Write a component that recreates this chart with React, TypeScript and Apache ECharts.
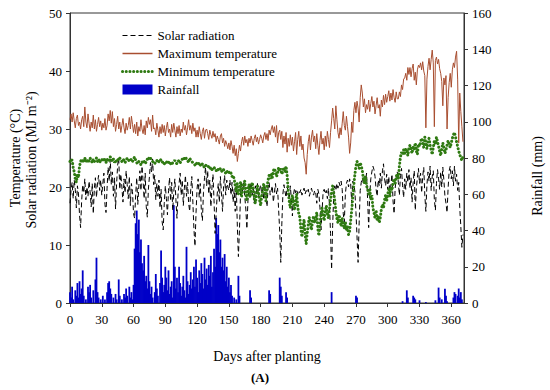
import React, { useEffect, useRef } from "react";
import * as echarts from "echarts";

const xTicks = [0, 30, 60, 90, 120, 150, 180, 210, 240, 270, 300, 330, 360];

const maxTemp = [
  31.6, 32.6, 31.2, 32.8, 31.4, 30.2, 31.8, 32.4, 30.6, 31.2,
  30.0, 31.6, 32.2, 30.4, 33.8, 31.2, 30.2, 32.6, 31.0, 29.6,
  31.2, 30.2, 32.4, 30.0, 31.6, 29.6, 30.8, 32.0, 30.4, 31.4,
  29.8, 31.0, 30.2, 31.8, 29.8, 30.6, 32.6, 31.4, 33.2, 31.0,
  33.0, 30.4, 31.8, 29.6, 30.8, 32.2, 30.0, 31.2, 29.4, 30.6,
  31.8, 30.2, 29.2, 31.0, 29.8, 30.6, 32.0, 30.0, 32.2, 30.8,
  29.4, 30.8, 29.2, 31.2, 28.8, 30.4, 29.6, 31.6, 30.0, 29.2,
  30.6, 29.0, 31.4, 30.2, 32.0, 30.8, 31.6, 29.6, 32.4, 30.0,
  30.2, 29.0, 31.0, 29.8, 28.6, 30.4, 29.2, 30.8, 29.4, 30.6,
  28.8, 30.2, 31.2, 29.4, 30.0, 28.6, 30.8, 29.4, 31.0, 29.8,
  28.6, 30.4, 29.2, 30.6, 28.8, 30.0, 29.4, 31.2, 29.8, 30.6,
  29.0, 30.2, 31.6, 29.8, 30.6, 29.2, 31.0, 29.6, 30.2, 28.6,
  29.8, 28.6, 30.4, 29.2, 28.2, 29.6, 30.2, 28.4, 29.8, 30.0,
  29.2, 28.2, 29.8, 29.0, 28.4, 29.6, 28.6, 29.2, 27.8, 28.8,
  28.2, 27.4, 28.8, 29.2, 27.6, 28.4, 27.0, 28.0, 27.4, 26.6,
  27.6, 26.4, 28.0, 27.0, 25.8, 27.2, 25.4, 26.6, 24.4, 25.8,
  27.2, 26.2, 27.8, 28.6, 27.2, 28.8, 27.6, 28.2, 27.0, 28.4,
  27.6, 28.8, 28.0, 27.2, 28.4, 29.0, 27.8, 28.6, 27.4, 28.2,
  29.0, 28.4, 27.6, 28.8, 29.4, 28.2, 29.2, 28.0, 29.8, 29.0,
  30.0, 30.6, 29.4, 30.4, 28.6, 30.6, 27.6, 29.4, 29.8, 28.2,
  29.6, 26.8, 28.8, 27.4, 29.4, 26.0, 28.4, 27.0, 29.0, 27.2,
  28.6, 26.2, 27.8, 29.4, 25.6, 28.2, 29.6, 27.0, 28.8, 26.4,
  27.4, 25.0, 24.2, 22.2, 25.6, 27.8, 29.0, 26.4, 28.6, 29.8,
  27.8, 28.8, 26.6, 29.2, 27.2, 25.6, 28.0, 29.6, 27.4, 28.4,
  26.4, 28.8, 27.0, 29.6, 28.2, 26.8, 29.4, 31.4, 33.6, 31.8,
  30.0, 34.0, 31.6, 29.4, 28.4, 30.2, 29.0, 31.0, 33.0, 30.6,
  29.8, 32.2, 30.4, 28.6, 25.8, 27.6, 31.2, 29.4, 33.2, 34.6,
  32.8, 34.8, 33.6, 31.2, 35.4, 37.6, 36.2, 33.8, 35.2, 32.8,
  34.2, 33.4, 35.0, 33.0, 34.4, 35.6, 33.8, 34.8, 32.6, 34.0,
  35.4, 33.6, 34.2, 32.2, 35.0, 33.8, 35.8, 34.2, 36.0, 34.6,
  35.6, 36.6, 34.8, 36.2, 35.0, 36.8, 35.4, 34.6, 36.4, 35.2,
  35.2, 36.4, 35.6, 37.6, 36.8, 38.6, 38.8, 39.6, 38.4, 40.6,
  39.4, 40.6, 39.0, 40.4, 41.2, 38.4, 39.8, 37.6, 40.2, 41.0,
  40.6, 41.4, 40.2, 41.6, 40.0, 39.2, 30.2, 38.6, 40.8, 42.2,
  40.2, 42.0, 43.6, 41.4, 30.4, 41.8, 42.4, 41.2, 42.0, 40.4,
  39.6, 38.2, 34.0, 38.8, 37.6, 39.2, 30.0, 35.4, 38.0, 39.6,
  37.2, 40.2, 41.4, 40.6, 42.4, 43.4, 38.6, 27.6, 36.2, 33.0, 30.4, 27.8,
];

const minTemp = [
  24.4, 24.8, 24.6, 23.4, 22.6, 21.4, 20.8, 22.2, 21.6, 23.6,
  24.4, 24.8, 24.2, 24.6, 25.0, 24.4, 24.8, 24.2, 24.6, 25.0,
  24.6, 24.2, 24.8, 24.4, 24.6, 25.0, 24.4, 24.8, 24.2, 24.6,
  24.8, 24.4, 25.0, 24.6, 24.2, 24.8, 24.4, 24.6, 25.2, 24.8,
  24.4, 24.8, 24.2, 24.6, 24.4, 24.8, 24.6, 25.0, 24.6, 24.4,
  24.8, 24.6, 24.2, 24.6, 25.0, 24.8, 24.4, 24.6, 24.8, 24.4,
  24.8, 25.2, 24.6, 24.2, 24.0, 24.4, 24.2, 23.8, 24.2, 24.6,
  24.4, 24.0, 24.4, 24.8, 24.6, 25.2, 25.0, 24.6, 24.4, 24.2,
  24.0, 24.4, 24.6, 24.2, 24.4, 24.8, 24.6, 24.2, 24.4, 24.0,
  24.2, 24.4, 24.0, 24.2, 24.4, 24.0, 23.8, 24.2, 24.4, 24.6,
  24.2, 24.0, 24.4, 24.6, 24.2, 24.4, 24.8, 24.6, 25.0, 25.2,
  24.8, 24.6, 24.2, 25.0, 24.6, 24.4, 24.2, 24.0, 23.8, 24.2,
  24.0, 23.8, 24.2, 23.8, 23.6, 24.0, 23.6, 23.4, 23.8, 23.6,
  23.4, 23.6, 23.2, 23.4, 23.0, 23.2, 23.4, 23.0, 22.8, 23.2,
  23.0, 22.8, 23.2, 22.8, 22.6, 23.0, 22.6, 22.4, 22.8, 22.4,
  22.6, 22.2, 22.4, 21.8, 22.0, 21.4, 20.2, 19.2, 20.6, 18.8,
  19.6, 20.8, 18.4, 19.4, 20.6, 21.0, 18.8, 17.6, 19.8, 20.4,
  18.2, 19.4, 20.8, 19.8, 18.0, 17.2, 18.6, 20.2, 19.0, 17.8,
  16.8, 18.4, 19.6, 20.6, 19.2, 17.6, 19.8, 21.2, 22.0, 21.4,
  22.4, 21.6, 22.8, 23.2, 22.6, 21.8, 22.4, 23.4, 22.8, 23.2,
  22.2, 22.8, 23.4, 22.6, 23.6, 22.0, 19.4, 17.6, 16.4, 17.8,
  18.6, 17.2, 16.0, 17.4, 18.8, 16.6, 15.4, 14.8, 12.6, 11.4,
  13.2, 14.4, 11.8, 10.2, 12.0, 13.6, 14.8, 13.4, 12.6, 14.2,
  15.0, 13.8, 14.6, 15.6, 12.8, 11.6, 13.6, 15.2, 16.4, 15.0,
  14.2, 15.8, 16.8, 15.4, 14.6, 16.2, 17.8, 19.2, 20.2, 19.0,
  17.6, 15.8, 14.6, 13.8, 15.2, 14.4, 13.2, 14.6, 13.6, 12.8,
  14.0, 12.6, 13.2, 11.8, 12.4, 14.2, 16.0, 18.2, 20.4, 22.2,
  23.6, 24.4, 24.0, 23.2, 24.2, 23.6, 22.8, 21.4, 20.6, 21.8,
  20.2, 19.6, 18.8, 19.8, 17.8, 18.6, 16.4, 15.6, 14.6, 16.0,
  14.2, 15.0, 13.8, 14.8, 16.2, 17.0, 16.4, 17.8, 18.6, 17.6,
  18.8, 19.6, 18.4, 20.0, 19.4, 20.8, 21.4, 20.6, 21.8, 22.2,
  21.4, 23.6, 25.2, 26.0, 25.6, 26.4, 25.8, 26.6, 26.2, 25.4,
  26.8, 27.2, 26.4, 25.8, 27.0, 26.6, 27.6, 26.2, 25.6, 27.4,
  27.0, 27.8, 28.4, 27.6, 26.8, 28.6, 27.4, 26.6, 27.8, 28.4,
  27.2, 26.4, 25.6, 26.8, 28.0, 27.4, 28.6, 27.8, 27.0, 26.2,
  25.4, 26.6, 27.6, 26.8, 25.8, 26.4, 27.2, 28.0, 27.4, 26.8,
  27.6, 28.4, 29.0, 29.4, 28.6, 27.8, 27.0, 26.2, 25.6, 25.0, 24.6, 25.2,
];

const solarRad = [
  17.2, 19.4, 20.8, 18.0, 21.2, 19.6, 16.4, 20.2, 18.8, 15.2,
  13.0, 17.6, 20.4, 19.0, 21.4, 17.8, 20.0, 18.4, 21.0, 19.2,
  16.6, 20.6, 15.4, 19.8, 21.6, 18.2, 20.8, 22.0, 19.4, 21.2,
  18.6, 20.6, 22.4, 17.0, 15.6, 19.8, 23.4, 21.0, 24.8, 20.4,
  22.6, 18.4, 21.6, 16.2, 20.6, 23.8, 25.0, 19.6, 22.2, 20.0,
  17.4, 21.4, 19.0, 22.8, 20.4, 18.0, 21.8, 16.8, 20.6, 19.2,
  15.4, 14.6, 18.6, 21.6, 17.0, 20.2, 22.8, 19.4, 23.6, 21.0,
  18.0, 22.4, 16.6, 14.8, 19.6, 21.8, 24.2, 22.6, 24.8, 20.4,
  22.0, 17.8, 20.6, 18.4, 21.2, 16.4, 19.6, 14.0, 12.6, 17.2,
  20.2, 18.0, 15.2, 19.4, 21.6, 17.6, 20.8, 16.0, 19.2, 21.4,
  17.8, 14.6, 18.8, 20.6, 22.4, 18.6, 21.2, 16.8, 19.8, 22.0,
  18.4, 20.8, 17.2, 15.8, 19.6, 21.8, 17.4, 12.8, 9.8, 15.6,
  19.8, 21.4, 18.2, 20.6, 16.0, 14.2, 19.0, 21.6, 23.4, 20.2,
  22.8, 18.8, 21.2, 16.6, 19.8, 22.2, 17.6, 12.0, 15.4, 18.8,
  20.6, 17.4, 21.8, 19.0, 15.8, 20.2, 22.0, 18.6, 21.2, 20.0,
  19.4, 21.2, 18.6, 20.8, 17.4, 19.6, 15.8, 20.2, 13.2, 8.0,
  12.6, 18.8, 20.6, 19.2, 21.0, 18.4, 16.2, 12.8, 17.6, 20.2,
  19.4, 20.8, 18.6, 19.8, 17.2, 20.2, 19.0, 20.6, 18.2, 19.6,
  20.4, 18.8, 19.6, 17.8, 20.0, 19.2, 16.6, 19.8, 20.8, 18.6,
  19.4, 20.2, 17.4, 19.0, 20.6, 18.8, 19.8, 16.0, 12.4, 7.0,
  13.6, 18.8, 20.4, 19.2, 18.2, 20.0, 19.4, 17.8, 20.2, 18.0,
  15.0, 18.6, 19.8, 19.0, 19.6, 18.8, 19.4, 19.0, 19.6, 18.6,
  19.2, 19.8, 18.8, 19.4, 19.0, 19.6, 18.4, 19.2, 19.8, 19.0,
  18.6, 19.4, 19.0, 17.2, 19.6, 18.8, 16.4, 12.6, 15.8, 19.2,
  19.6, 18.8, 19.4, 18.0, 19.8, 16.8, 12.0, 5.8, 13.4, 18.6,
  20.2, 19.4, 20.6, 19.8, 20.8, 20.2, 21.0, 19.6, 15.4, 14.0,
  18.8, 20.6, 21.2, 20.0, 21.4, 20.6, 17.2, 21.0, 20.4, 19.2,
  15.6, 11.4, 7.0, 13.8, 19.4, 20.8, 21.6, 20.6, 21.8, 20.8,
  22.4, 17.8, 13.0, 18.6, 21.4, 22.6, 23.6, 23.0, 21.8, 19.6,
  18.4, 21.2, 20.2, 22.4, 19.8, 22.8, 24.0, 21.4, 20.2, 22.2,
  19.6, 21.8, 18.6, 20.4, 22.2, 17.6, 15.4, 19.8, 21.6, 22.6,
  20.8, 18.6, 22.0, 23.2, 20.2, 18.2, 21.4, 19.6, 22.4, 20.8,
  23.0, 19.8, 21.6, 17.4, 20.8, 22.8, 16.0, 19.8, 21.6, 23.2,
  20.6, 22.4, 19.0, 21.8, 23.4, 18.6, 15.8, 20.4, 22.6, 21.0,
  23.6, 19.4, 21.8, 22.8, 17.8, 16.0, 20.6, 23.0, 21.4, 19.6,
  22.6, 20.0, 23.4, 21.2, 18.4, 17.2, 15.6, 19.8, 22.8, 23.6,
  21.4, 22.8, 20.2, 23.6, 21.0, 22.2, 19.4, 20.8, 16.4, 13.2, 9.6, 11.8,
];

// rainfall: days with rain and the amount (mm) on each
const rainDays = [
  0, 1, 2, 3, 5, 6, 7, 8, 9, 10, 11, 12, 13, 15, 17, 18, 19, 20, 22, 24, 25, 26, 27, 29,
  31, 33, 35, 36, 37, 38, 39, 41, 43, 44, 46, 47, 49, 51, 52, 53, 54, 56, 57, 58, 59,
  60, 61, 62, 63, 64, 65, 66, 67, 68, 69, 70, 71, 72, 73, 74, 75, 76, 77, 78, 80, 81, 82, 83,
  85, 86, 87, 88, 89, 90, 91, 92, 93, 94, 95, 96, 97, 98, 99, 100, 101, 102, 103, 104, 105,
  106, 107, 108, 109, 110, 111, 112, 113, 114, 115, 116, 117, 118, 119, 120, 121, 122, 123,
  124, 125, 126, 127, 128, 129, 130, 131, 132, 133, 134, 135, 136, 137, 138, 139, 140, 141,
  142, 143, 144, 145, 146, 147, 148, 149, 150, 151, 152, 153, 155, 157, 159, 160,
  170, 171, 188, 189, 198, 199, 200, 204, 205, 247, 270, 271, 314, 318, 319, 324, 325, 326,
  330, 336, 345, 348, 349, 351, 354, 355, 356, 362, 363, 364, 366, 367, 368, 369, 370,
];
const rainMm = [
  6, 3, 9, 2, 7, 4, 11, 3, 12, 5, 8, 18, 4, 2, 9, 6, 10, 3, 7, 13, 25, 6, 3, 2,
  4, 2, 6, 11, 12, 8, 5, 3, 5, 2, 13, 4, 2, 5, 3, 8, 4, 9, 3, 6, 2,
  10, 30, 44, 51, 38, 46, 28, 35, 22, 18, 26, 12, 15, 8, 32, 12, 5, 9, 3, 6, 16, 8, 4,
  11, 29, 14, 6, 10, 20, 14, 7, 18, 5, 9, 12, 3, 54, 20, 8, 14, 6, 20, 11, 4,
  9, 15, 7, 3, 31, 12, 5, 10, 17, 8, 13, 20, 9, 24, 14, 6, 18, 11,
  22, 16, 8, 25, 13, 19, 10, 21, 15, 26, 9, 17, 30, 20, 47, 38, 43, 28,
  35, 20, 25, 18, 27, 12, 20, 9, 14, 6, 10, 4, 3, 2, 15, 4,
  7, 3, 7, 5, 14, 9, 4, 6, 3, 6, 4, 3, 1, 7, 3, 4, 3, 2,
  1.5, 0.5, 1.5, 8.5, 3, 2, 7.8, 4, 1, 3, 6, 5, 4, 8, 3, 6, 2,
];

const FONT = "Liberation Serif";

export default function App() {
  const ref = useRef<HTMLDivElement>(null);
  useEffect(() => {
    if (!ref.current) return;
    const chart = echarts.init(ref.current, undefined, { renderer: "svg" });
    const maxData = maxTemp.map((v, i) => [i, v]);
    const minData = minTemp.map((v, i) => [i, v]);
    const solarData = solarRad.map((v, i) => [i, v]);
    const rainData = rainDays.map((d, i) => [d, rainMm[i]]);
    const axisColor = "#333";
    chart.setOption({
      animation: false,
      textStyle: { fontFamily: FONT },
      grid: {
        left: 70,
        right: 86,
        top: 13,
        bottom: 87,
        show: true,
        borderColor: axisColor,
        borderWidth: 1,
      },
      legend: {
        orient: "vertical",
        left: 116,
        top: 24,
        itemWidth: 30,
        itemHeight: 10,
        itemGap: 5,
        textStyle: { fontFamily: FONT, fontSize: 13, color: "#000" },
        data: [
          { name: "Solar radiation", itemStyle: { opacity: 0 }, lineStyle: { width: 1.2 } },
          { name: "Maximum temperature", itemStyle: { opacity: 0 }, lineStyle: { width: 1.5 } },
          { name: "Minimum temperature", itemStyle: { opacity: 0 }, lineStyle: { width: 3 } },
          { name: "Rainfall", icon: "rect" },
        ],
      },
      xAxis: {
        type: "value",
        min: 0,
        max: 372,
        interval: 30,
        name: "Days after planting",
        nameLocation: "middle",
        nameGap: 46,
        nameTextStyle: { fontFamily: FONT, fontSize: 14, color: "#000" },
        axisLine: { lineStyle: { color: axisColor } },
        axisTick: { length: 4, lineStyle: { color: axisColor } },
        axisLabel: {
          fontFamily: FONT,
          fontSize: 13,
          color: "#000",
          margin: 10,
          showMaxLabel: false,
          formatter: (v: number) => (xTicks.includes(v) ? String(v) : ""),
        },
        splitLine: { show: false },
      },
      yAxis: [
        {
          type: "value",
          min: 0,
          max: 50,
          interval: 10,
          axisLine: { show: true, lineStyle: { color: axisColor } },
          axisTick: { show: true, length: 4, lineStyle: { color: axisColor } },
          axisLabel: { fontFamily: FONT, fontSize: 13, color: "#000", margin: 8 },
          splitLine: { show: false },
        },
        {
          type: "value",
          min: 0,
          max: 160,
          interval: 20,
          position: "right",
          axisLine: { show: true, lineStyle: { color: axisColor } },
          axisTick: { show: true, length: 4, lineStyle: { color: axisColor } },
          axisLabel: { fontFamily: FONT, fontSize: 13, color: "#000", margin: 8 },
          splitLine: { show: false },
        },
      ],
      series: [
        {
          name: "Rainfall",
          type: "bar",
          yAxisIndex: 1,
          data: rainData,
          barWidth: 1.8,
          itemStyle: { color: "#0000c8" },
          z: 1,
        },
        {
          name: "Solar radiation",
          type: "line",
          data: solarData,
          symbol: "none",
          lineStyle: { color: "#000", width: 1, type: [5, 3] },
          itemStyle: { color: "#000" },
          z: 2,
        },
        {
          name: "Maximum temperature",
          type: "line",
          data: maxData,
          symbol: "none",
          lineStyle: { color: "#a84e30", width: 1 },
          itemStyle: { color: "#a84e30" },
          z: 3,
        },
        {
          name: "Minimum temperature",
          type: "line",
          data: minData,
          symbol: "none",
          lineStyle: { color: "#2f7a12", width: 3, type: [0.1, 3.6], cap: "round" },
          itemStyle: { color: "#2f7a12" },
          z: 4,
        },
      ],
      graphic: [
        {
          type: "text",
          x: 15,
          y: 158,
          rotation: Math.PI / 2,
          style: {
            text: "Temperature (°C)",
            fontFamily: FONT,
            fontSize: 14,
            fill: "#000",
            textAlign: "center",
            textVerticalAlign: "middle",
          },
        },
        {
          type: "text",
          x: 31,
          y: 160,
          rotation: Math.PI / 2,
          style: {
            text: "Solar radiation (MJ m⁻²)",
            fontFamily: FONT,
            fontSize: 14,
            fill: "#000",
            textAlign: "center",
            textVerticalAlign: "middle",
          },
        },
        {
          type: "text",
          x: 537,
          y: 176,
          rotation: Math.PI / 2,
          style: {
            text: "Rainfall (mm)",
            fontFamily: FONT,
            fontSize: 14,
            fill: "#000",
            textAlign: "center",
            textVerticalAlign: "middle",
          },
        },
        {
          type: "text",
          x: 260,
          y: 377,
          style: {
            text: "(A)",
            fontFamily: FONT,
            fontSize: 13,
            fontWeight: "bold",
            fill: "#000",
            textAlign: "center",
            textVerticalAlign: "middle",
          },
        },
      ],
    });
    return () => chart.dispose();
  }, []);
  return (
    <div
      ref={ref}
      style={{ position: "fixed", left: 0, top: 0, width: 550, height: 390, background: "#fff" }}
    />
  );
}
